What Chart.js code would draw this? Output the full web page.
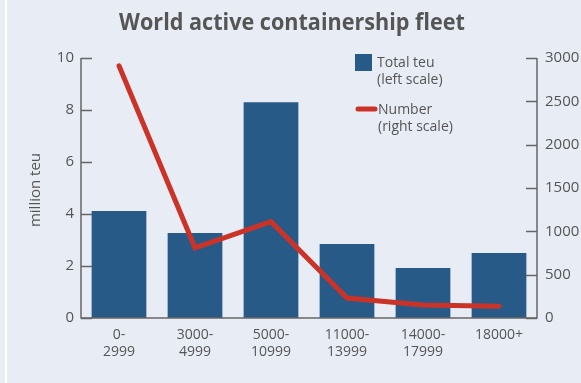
<!DOCTYPE html>
<html>
<head>
<meta charset="utf-8">
<script src="https://cdn.jsdelivr.net/npm/chart.js@4.4.1/dist/chart.umd.min.js"></script>
<style>
  html, body { margin: 0; padding: 0; background: #e8ecf5; }
  #wrap { position: relative; width: 581px; height: 383px; overflow: hidden; background: #e8ecf5; }
  #stripe { position: absolute; left: 5px; top: 0; width: 2px; height: 383px; background: #ffffff; }
  canvas { position: absolute; left: 0; top: 0; }
</style>
</head>
<body>
<div id="wrap">
  <div id="stripe"></div>
  <canvas id="c" width="581" height="383"></canvas>
</div>
<script>
const categories = [["0-", "2999"], ["3000-", "4999"], ["5000-", "10999"], ["11000-", "13999"], ["14000-", "17999"], ["18000+"]];
const totalTeu = [4.12, 3.27, 8.3, 2.85, 1.92, 2.5];
const shipNumber = [2910, 810, 1112, 230, 150, 135];
const leftTicks = [0, 2, 4, 6, 8, 10];
const rightTicks = [0, 500, 1000, 1500, 2000, 2500, 3000];

const chartTitle = "World active containership fleet";
const leftAxisTitle = "million teu";
const legendBar = ["Total teu", "(left scale)"];
const legendLine = ["Number", "(right scale)"];

const BAR = "#285a88";
const RED = "#cc3328";
const AXIS = "#666666";
const TXT = "#555555";
const FONT = "'Open Sans', 'Noto Sans', sans-serif";

const decor = {
  id: "decor",
  afterDraw(chart) {
    const ctx = chart.ctx;
    const ca = chart.chartArea;
    const yL = chart.scales.y;
    const yR = chart.scales.y1;
    ctx.save();
    // title
    ctx.fillStyle = TXT;
    ctx.font = "bold 24px 'Open Sans', sans-serif";
    ctx.textAlign = "center";
    ctx.textBaseline = "middle";
    ctx.save();
    ctx.translate(292, 23);
    ctx.scale(0.9, 1);
    ctx.fillText(chartTitle, 0, 0);
    ctx.restore();
    // axis lines
    ctx.strokeStyle = AXIS;
    ctx.lineWidth = 1.5;
    ctx.beginPath();
    ctx.moveTo(ca.left, yL.getPixelForValue(10));
    ctx.lineTo(ca.left, ca.bottom);
    ctx.lineTo(ca.right, ca.bottom);
    ctx.lineTo(ca.right, yR.getPixelForValue(3000));
    ctx.stroke();
    // inward ticks
    ctx.beginPath();
    leftTicks.forEach(v => {
      const py = Math.round(yL.getPixelForValue(v)) + 0.5;
      ctx.moveTo(ca.left, py); ctx.lineTo(ca.left + 11, py);
    });
    rightTicks.forEach(v => {
      const py = Math.round(yR.getPixelForValue(v)) + 0.5;
      ctx.moveTo(ca.right, py); ctx.lineTo(ca.right - 11, py);
    });
    ctx.stroke();
    // left axis title
    ctx.fillStyle = TXT;
    ctx.font = "15px " + FONT;
    ctx.save();
    ctx.translate(36, 190);
    ctx.rotate(-Math.PI / 2);
    ctx.textAlign = "center";
    ctx.textBaseline = "middle";
    ctx.fillText(leftAxisTitle, 0, 0);
    ctx.restore();
    // legend
    ctx.fillStyle = BAR;
    ctx.fillRect(355, 54, 17, 17);
    ctx.strokeStyle = RED;
    ctx.lineWidth = 5;
    ctx.lineCap = "round";
    ctx.beginPath();
    ctx.moveTo(358, 109); ctx.lineTo(375, 109);
    ctx.stroke();
    ctx.fillStyle = TXT;
    ctx.font = "14px " + FONT;
    ctx.textAlign = "left";
    ctx.textBaseline = "middle";
    ctx.fillText(legendBar[0], 377, 63);
    ctx.fillText(legendBar[1], 377, 80);
    ctx.fillText(legendLine[0], 378, 110);
    ctx.fillText(legendLine[1], 378, 127);
    ctx.restore();
  }
};

new Chart(document.getElementById("c"), {
  data: {
    labels: categories,
    datasets: [
      {
        type: "line",
        label: "Number (right scale)",
        data: shipNumber,
        yAxisID: "y1",
        borderColor: RED,
        backgroundColor: RED,
        borderWidth: 5,
        pointRadius: 0,
        tension: 0,
        borderJoinStyle: "miter",
        borderCapStyle: "round",
        order: 0
      },
      {
        type: "bar",
        label: "Total teu (left scale)",
        data: totalTeu,
        yAxisID: "y",
        backgroundColor: BAR,
        categoryPercentage: 1,
        barPercentage: 0.72,
        order: 1
      }
    ]
  },
  options: {
    responsive: false,
    animation: false,
    devicePixelRatio: 1,
    layout: { padding: { top: 58, left: 0, right: 0, bottom: 0 } },
    plugins: { legend: { display: false }, tooltip: { enabled: false }, title: { display: false } },
    scales: {
      x: {
        grid: { display: false, drawTicks: false },
        border: { display: false },
        ticks: { color: TXT, font: { family: "'Open Sans', sans-serif", size: 14, lineHeight: 1.2 }, padding: 9, maxRotation: 0, autoSkip: false },
        afterFit(s) { s.height = 65; }
      },
      y: {
        position: "left",
        min: 0, max: 10,
        afterBuildTicks(s) { s.ticks = leftTicks.map(v => ({ value: v })); },
        grid: { display: false, drawTicks: false },
        border: { display: false },
        ticks: { color: TXT, font: { family: "'Open Sans', sans-serif", size: 15 }, padding: 7, callback: v => String(v) },
        afterFit(s) { s.width = 81; }
      },
      y1: {
        position: "right",
        min: 0, max: 3000,
        afterBuildTicks(s) { s.ticks = rightTicks.map(v => ({ value: v })); },
        grid: { display: false, drawTicks: false },
        border: { display: false },
        ticks: { color: TXT, font: { family: "'Open Sans', sans-serif", size: 15 }, padding: 8, callback: v => String(v) },
        afterFit(s) { s.width = 44; }
      }
    }
  },
  plugins: [decor]
});
</script>
</body>
</html>
